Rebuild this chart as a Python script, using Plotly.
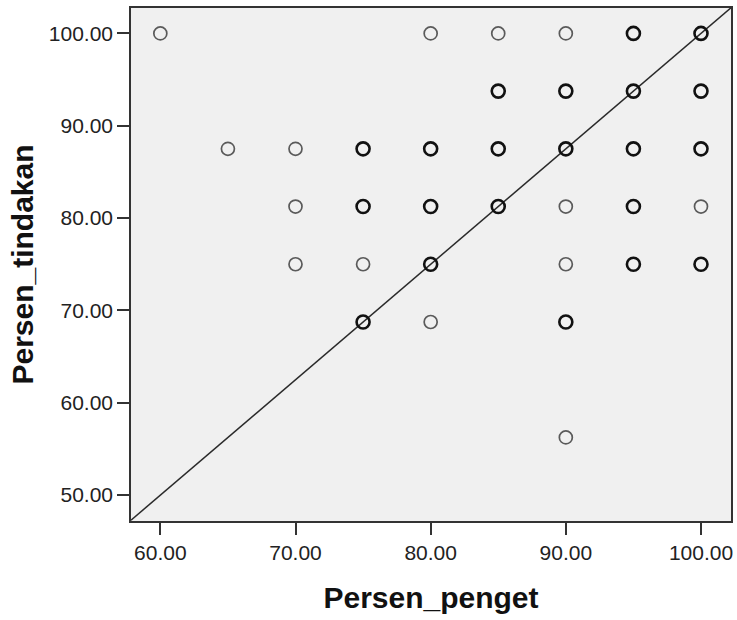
import plotly.graph_objects as go
from collections import Counter

# Data (duplicates = overlapping cases)
persen_penget = [
    60, 80, 85, 90, 95, 95, 100, 100,
    85, 85, 90, 90, 95, 95, 100, 100,
    65, 70, 75, 75, 80, 80, 85, 85, 90, 90, 95, 95, 100, 100,
    70, 75, 75, 80, 80, 85, 85, 90, 95, 95, 100,
    70, 75, 80, 80, 90, 95, 95, 100, 100,
    75, 75, 80, 90, 90,
    90,
]
persen_tindakan = [
    100, 100, 100, 100, 100, 100, 100, 100,
    93.75, 93.75, 93.75, 93.75, 93.75, 93.75, 93.75, 93.75,
    87.5, 87.5, 87.5, 87.5, 87.5, 87.5, 87.5, 87.5, 87.5, 87.5, 87.5, 87.5, 87.5, 87.5,
    81.25, 81.25, 81.25, 81.25, 81.25, 81.25, 81.25, 81.25, 81.25, 81.25, 81.25,
    75, 75, 75, 75, 75, 75, 75, 75, 75,
    68.75, 68.75, 68.75, 68.75, 68.75,
    56.25,
]
x_ticks = [60, 70, 80, 90, 100]
y_ticks = [50, 60, 70, 80, 90, 100]
x_range = [57.83, 102.22]
y_range = [47.2, 102.75]
ref_slope = 1.25
ref_intercept = -25.0

counts = Counter(zip(persen_penget, persen_tindakan))
single = [p for p, c in counts.items() if c == 1]
multi = [p for p, c in counts.items() if c > 1]

FONT = "Arial, 'Liberation Sans', sans-serif"

fig = go.Figure()
ref_x = x_range
ref_y = [ref_slope * v + ref_intercept for v in ref_x]
fig.add_trace(go.Scatter(x=ref_x, y=ref_y, mode="lines",
                         line=dict(color="#2a2a2a", width=1.5),
                         hoverinfo="skip", showlegend=False, cliponaxis=True))
fig.add_trace(go.Scatter(x=[p[0] for p in single], y=[p[1] for p in single],
                         mode="markers", showlegend=False,
                         marker=dict(symbol="circle-open", size=13,
                                     color="#5a5a5a", line=dict(width=1.7, color="#5a5a5a"))))
fig.add_trace(go.Scatter(x=[p[0] for p in multi], y=[p[1] for p in multi],
                         mode="markers", showlegend=False,
                         marker=dict(symbol="circle-open", size=13,
                                     color="#111111", line=dict(width=2.6, color="#111111"))))

axis_common = dict(showgrid=False, zeroline=False, showline=True, linecolor="#333333",
                   linewidth=1.5, mirror=True, ticks="outside", ticklen=12, tickwidth=2,
                   tickcolor="#333333", tickformat=".2f", automargin=False,
                   tickfont=dict(family=FONT, size=21, color="#222222"))

fig.update_xaxes(range=x_range, tickvals=x_ticks, **axis_common,
                 title=dict(text="<b>Persen_penget</b>",
                            font=dict(family=FONT, size=30, color="#111111"), standoff=24))
fig.update_yaxes(range=y_range, tickvals=y_ticks, **axis_common,
                 title=dict(text="<b>Persen_tindakan</b>",
                            font=dict(family=FONT, size=30, color="#111111"), standoff=6))

fig.update_layout(width=737, height=620, margin=dict(l=131, r=6, t=8, b=99),
                  plot_bgcolor="#F0F0F0", paper_bgcolor="white")

# remove the default page margin so the 737x620 figure fills the window exactly
fig.write_html("out.html", config={"displayModeBar": False},
               post_script="document.body.style.margin='0';document.body.style.overflow='hidden';")
